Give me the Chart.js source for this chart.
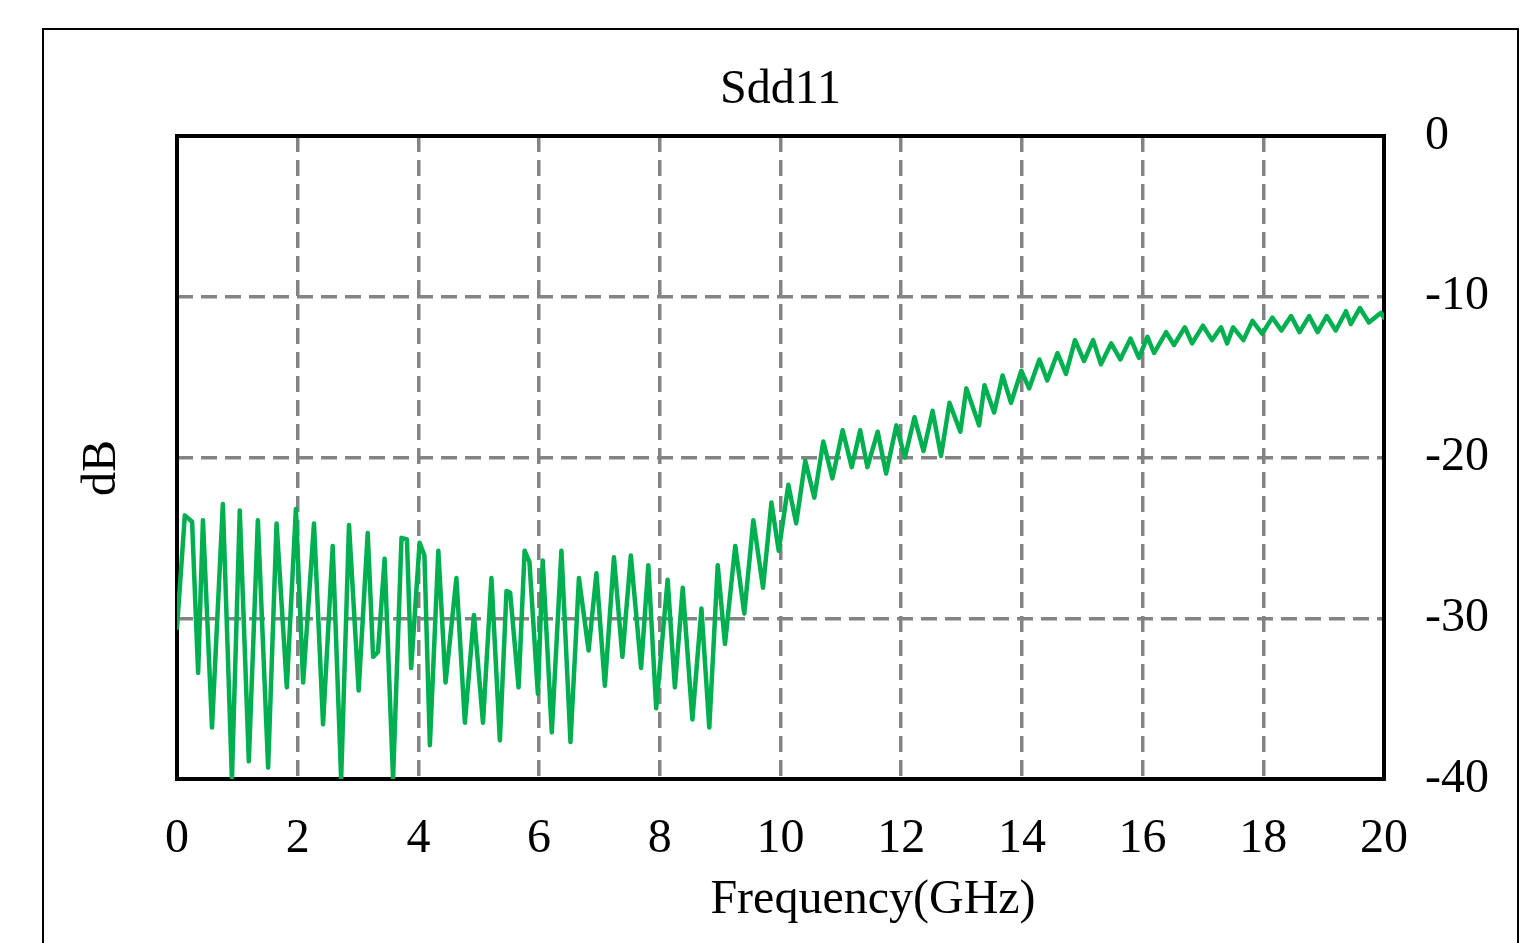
<!DOCTYPE html>
<html lang="en">
<head>
    <meta charset="UTF-8">
    <title>Sdd11</title>
    <script src="https://cdn.jsdelivr.net/npm/chart.js"></script>
    <style>
        html, body { margin: 0; padding: 0; background: #fff; overflow: hidden; }
        .frame { position: absolute; left: 42px; top: 28px; width: 1477px; height: 1000px; border: 2px solid #000; box-sizing: border-box; }
        #sddChart { position: absolute; left: 0; top: 0; }
    </style>
</head>
<body>
    <div class="frame"></div>
    <canvas id="sddChart" width="1526" height="943"></canvas>

    <script>
    // Frequency (GHz) and Sdd11 (dB): peaks and dips of the ripple
    const freqGHz = [
        0.00, 0.13, 0.25, 0.35, 0.43, 0.58, 0.76, 0.91, 1.04, 1.19,
        1.34, 1.51, 1.65, 1.82, 1.97, 2.09, 2.27, 2.42, 2.58, 2.72,
        2.85, 3.01, 3.16, 3.25, 3.33, 3.44, 3.58, 3.72, 3.81, 3.88,
        4.02, 4.10, 4.19, 4.33, 4.45, 4.63, 4.77, 4.92, 5.07, 5.21,
        5.35, 5.46, 5.52, 5.66, 5.76, 5.84, 5.98, 6.06, 6.21, 6.37,
        6.52, 6.66, 6.82, 6.95, 7.09, 7.24, 7.38, 7.52, 7.69, 7.81,
        7.94, 8.13, 8.25, 8.38, 8.54, 8.69, 8.82, 8.96, 9.08, 9.25,
        9.40, 9.55, 9.71, 9.85, 9.97, 10.13, 10.26, 10.41, 10.56, 10.71,
        10.86, 11.03, 11.18, 11.32, 11.44, 11.61, 11.75, 11.92, 12.06, 12.22,
        12.37, 12.52, 12.66, 12.80, 12.98, 13.08, 13.29, 13.38, 13.54, 13.68,
        13.82, 13.99, 14.12, 14.29, 14.42, 14.59, 14.73, 14.88, 15.03, 15.18,
        15.31, 15.48, 15.63, 15.80, 15.94, 16.08, 16.19, 16.39, 16.52, 16.70,
        16.82, 17.00, 17.15, 17.30, 17.40, 17.50, 17.67, 17.82, 17.98, 18.15,
        18.30, 18.46, 18.60, 18.76, 18.90, 19.05, 19.20, 19.37, 19.45, 19.60,
        19.75, 19.95, 20.00
    ];
    const sdd11dB = [
        -30.6, -23.6, -24.0, -33.4, -23.9, -36.8, -22.9, -40.0, -23.3, -38.9,
        -23.9, -39.3, -24.1, -34.3, -23.2, -34.0, -24.1, -36.6, -25.5, -40.0,
        -24.2, -34.5, -24.7, -32.4, -32.1, -26.3, -40.0, -25.0, -25.1, -33.1,
        -25.3, -26.1, -37.9, -25.8, -34.0, -27.5, -36.5, -29.8, -36.5, -27.5,
        -37.6, -28.3, -28.4, -34.3, -25.8, -26.5, -34.7, -26.4, -37.1, -25.8,
        -37.7, -27.5, -32.0, -27.2, -34.2, -26.2, -32.4, -26.1, -33.1, -26.7,
        -35.6, -27.6, -34.3, -28.1, -36.3, -29.4, -36.8, -26.7, -31.6, -25.5,
        -29.7, -23.9, -28.1, -22.8, -25.8, -21.7, -24.1, -20.2, -22.5, -19.0,
        -21.3, -18.3, -20.6, -18.3, -20.6, -18.4, -21.0, -18.0, -20.0, -17.5,
        -19.6, -17.1, -19.9, -16.6, -18.4, -15.7, -18.0, -15.5, -17.2, -14.9,
        -16.6, -14.6, -15.7, -13.9, -15.2, -13.5, -14.8, -12.7, -14.0, -12.7,
        -14.2, -12.9, -13.9, -12.6, -13.8, -12.5, -13.5, -12.2, -13.0, -11.9,
        -12.9, -11.8, -12.7, -11.9, -12.9, -11.9, -12.7, -11.5, -12.3, -11.3,
        -12.1, -11.2, -12.2, -11.2, -12.2, -11.2, -12.1, -10.9, -11.7, -10.7,
        -11.6, -11.0, -11.3
    ];
    const xTicks = [0, 2, 4, 6, 8, 10, 12, 14, 16, 18, 20];
    const yTicks = [0, -10, -20, -30, -40];

    Chart.defaults.font.family = "'Liberation Serif', 'Times New Roman', serif";
    Chart.defaults.font.size = 48;
    Chart.defaults.color = '#000';

    const gridStyle = { color: '#838383', lineWidth: 3.5, drawTicks: false };

    // axis names sit off-centre in the original, so draw them by hand
    const axisNames = {
        id: 'axisNames',
        afterDraw(chart) {
            const ctx = chart.ctx;
            ctx.save();
            ctx.fillStyle = '#000';
            ctx.font = "48px 'Liberation Serif', serif";
            ctx.textAlign = 'center';
            ctx.textBaseline = 'middle';
            ctx.fillText('Frequency(GHz)', 873, 900);
            ctx.translate(102, 468);
            ctx.rotate(-Math.PI / 2);
            ctx.fillText('dB', 0, 0);
            ctx.restore();
        }
    };

    new Chart(document.getElementById('sddChart'), {
        type: 'line',
        data: {
            datasets: [{
                label: 'Sdd11',
                data: freqGHz.map((f, i) => ({ x: f, y: sdd11dB[i] })),
                borderColor: '#00b050',
                borderWidth: 4.5,
                borderJoinStyle: 'round',
                borderCapStyle: 'round',
                pointRadius: 0,
                tension: 0
            }]
        },
        options: {
            responsive: false,
            animation: false,
            layout: { padding: 0 },
            plugins: { legend: { display: false }, tooltip: { enabled: false } },
            scales: {
                x: {
                    type: 'linear', position: 'bottom', min: 0, max: 20,
                    afterBuildTicks: s => { s.ticks = xTicks.map(v => ({ value: v })); },
                    ticks: { autoSkip: false, maxRotation: 0, padding: 32 },
                    grid: gridStyle,
                    border: { color: '#000', width: 4, dash: [16, 8] },
                    afterFit: s => { s.height = 164; }
                },
                xTop: {
                    type: 'linear', position: 'top', min: 0, max: 20,
                    ticks: { display: false },
                    grid: { display: false },
                    border: { color: '#000', width: 4 },
                    title: { display: true, text: 'Sdd11', padding: { top: 62, bottom: 0 } },
                    afterFit: s => { s.height = 136; }
                },
                y: {
                    type: 'linear', position: 'right', min: -40, max: 0,
                    afterBuildTicks: s => { s.ticks = yTicks.map(v => ({ value: v })); },
                    ticks: { padding: 41 },
                    grid: gridStyle,
                    border: { color: '#000', width: 4, dash: [16, 8] },
                    afterFit: s => { s.width = 142; }
                },
                yLeft: {
                    type: 'linear', position: 'left', min: -40, max: 0,
                    ticks: { display: false },
                    grid: { display: false },
                    border: { color: '#000', width: 4 },
                    afterFit: s => { s.width = 177; }
                }
            }
        },
        plugins: [axisNames]
    });
    </script>
</body>
</html>
